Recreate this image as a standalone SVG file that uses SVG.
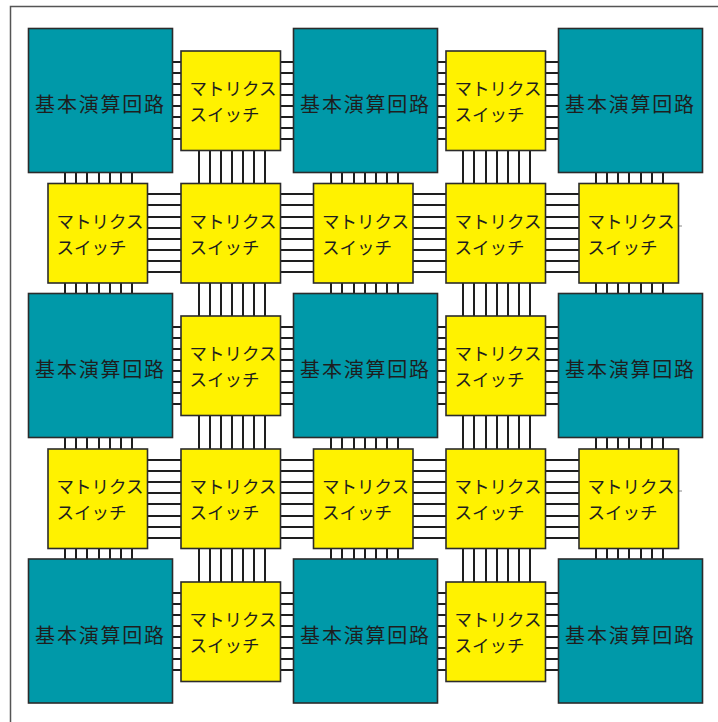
<svg xmlns="http://www.w3.org/2000/svg" width="718" height="722" viewBox="0 0 718 722">
<style>
.frame{fill:none;stroke:#555;stroke-width:1.5}
.alu{fill:#0099a9;stroke:#2b2b2b;stroke-width:1.6}
.sw{fill:#fff200;stroke:#2b2b2b;stroke-width:1.6}
.bus{fill:none;stroke:#1e1e1e;stroke-width:2}
.tick{fill:none;stroke:#888;stroke-width:1}
.ta{font-family:"Noto Sans CJK JP","Noto Sans",sans-serif;font-size:20px;letter-spacing:1.8px;fill:#1e1e1e;text-anchor:middle}
.ts{font-family:"Noto Sans CJK JP","Noto Sans",sans-serif;font-size:17.5px;fill:#1e1e1e}
</style>
<rect width="718" height="722" fill="#fff"/>
<rect class="frame" x="10.5" y="6.5" width="730" height="730"/>
<g id="connectors">
<path class="bus" d="M172 62H182M172 73H182M172 84H182M172 95H182M172 106H182M172 117H182M172 128H182M172 139H182"/>
<path class="bus" d="M279 62H295M279 73H295M279 84H295M279 95H295M279 106H295M279 117H295M279 128H295M279 139H295"/>
<path class="bus" d="M436 62H447M436 73H447M436 84H447M436 95H447M436 106H447M436 117H447M436 128H447M436 139H447"/>
<path class="bus" d="M544 62H560M544 73H560M544 84H560M544 95H560M544 106H560M544 117H560M544 128H560M544 139H560"/>
<path class="bus" d="M147 194H182M147 205H182M147 217H182M147 228H182M147 239H182M147 250H182M147 261H182M147 272H182"/>
<path class="bus" d="M279 194H315M279 205H315M279 217H315M279 228H315M279 239H315M279 250H315M279 261H315M279 272H315"/>
<path class="bus" d="M412 194H447M412 205H447M412 217H447M412 228H447M412 239H447M412 250H447M412 261H447M412 272H447"/>
<path class="bus" d="M544 194H580M544 205H580M544 217H580M544 228H580M544 239H580M544 250H580M544 261H580M544 272H580"/>
<path class="bus" d="M172 327H182M172 338H182M172 349H182M172 360H182M172 371H182M172 382H182M172 393H182M172 404H182"/>
<path class="bus" d="M279 327H295M279 338H295M279 349H295M279 360H295M279 371H295M279 382H295M279 393H295M279 404H295"/>
<path class="bus" d="M436 327H447M436 338H447M436 349H447M436 360H447M436 371H447M436 382H447M436 393H447M436 404H447"/>
<path class="bus" d="M544 327H560M544 338H560M544 349H560M544 360H560M544 371H560M544 382H560M544 393H560M544 404H560"/>
<path class="bus" d="M147 460H182M147 471H182M147 482H182M147 493H182M147 504H182M147 516H182M147 527H182M147 538H182"/>
<path class="bus" d="M279 460H315M279 471H315M279 482H315M279 493H315M279 504H315M279 516H315M279 527H315M279 538H315"/>
<path class="bus" d="M412 460H447M412 471H447M412 482H447M412 493H447M412 504H447M412 516H447M412 527H447M412 538H447"/>
<path class="bus" d="M544 460H580M544 471H580M544 482H580M544 493H580M544 504H580M544 516H580M544 527H580M544 538H580"/>
<path class="bus" d="M172 593H182M172 604H182M172 615H182M172 626H182M172 637H182M172 648H182M172 659H182M172 670H182"/>
<path class="bus" d="M279 593H295M279 604H295M279 615H295M279 626H295M279 637H295M279 648H295M279 659H295M279 670H295"/>
<path class="bus" d="M436 593H447M436 604H447M436 615H447M436 626H447M436 637H447M436 648H447M436 659H447M436 670H447"/>
<path class="bus" d="M544 593H560M544 604H560M544 615H560M544 626H560M544 637H560M544 648H560M544 659H560M544 670H560"/>
<path class="bus" d="M65 172V185M76 172V185M87 172V185M99 172V185M110 172V185M121 172V185M132 172V185"/>
<path class="bus" d="M65 282V295M76 282V295M87 282V295M99 282V295M110 282V295M121 282V295M132 282V295"/>
<path class="bus" d="M65 436V450M76 436V450M87 436V450M99 436V450M110 436V450M121 436V450M132 436V450"/>
<path class="bus" d="M65 548V560M76 548V560M87 548V560M99 548V560M110 548V560M121 548V560M132 548V560"/>
<path class="bus" d="M199 149V185M210 149V185M221 149V185M232 149V185M243 149V185M254 149V185M265 149V185"/>
<path class="bus" d="M199 282V317M210 282V317M221 282V317M232 282V317M243 282V317M254 282V317M265 282V317"/>
<path class="bus" d="M199 414V450M210 414V450M221 414V450M232 414V450M243 414V450M254 414V450M265 414V450"/>
<path class="bus" d="M199 548V583M210 548V583M221 548V583M232 548V583M243 548V583M254 548V583M265 548V583"/>
<path class="bus" d="M331 172V185M342 172V185M354 172V185M365 172V185M376 172V185M387 172V185M398 172V185"/>
<path class="bus" d="M331 282V295M342 282V295M354 282V295M365 282V295M376 282V295M387 282V295M398 282V295"/>
<path class="bus" d="M331 436V450M342 436V450M354 436V450M365 436V450M376 436V450M387 436V450M398 436V450"/>
<path class="bus" d="M331 548V560M342 548V560M354 548V560M365 548V560M376 548V560M387 548V560M398 548V560"/>
<path class="bus" d="M463 149V185M474 149V185M486 149V185M497 149V185M508 149V185M519 149V185M530 149V185"/>
<path class="bus" d="M463 282V317M474 282V317M486 282V317M497 282V317M508 282V317M519 282V317M530 282V317"/>
<path class="bus" d="M463 414V450M474 414V450M486 414V450M497 414V450M508 414V450M519 414V450M530 414V450"/>
<path class="bus" d="M463 548V583M474 548V583M486 548V583M497 548V583M508 548V583M519 548V583M530 548V583"/>
<path class="bus" d="M596 172V185M607 172V185M618 172V185M629 172V185M641 172V185M652 172V185M663 172V185"/>
<path class="bus" d="M596 282V295M607 282V295M618 282V295M629 282V295M641 282V295M652 282V295M663 282V295"/>
<path class="bus" d="M596 436V450M607 436V450M618 436V450M629 436V450M641 436V450M652 436V450M663 436V450"/>
<path class="bus" d="M596 548V560M607 548V560M618 548V560M629 548V560M641 548V560M652 548V560M663 548V560"/>
<path class="tick" d="M679 226H682M679 491H682"/>
</g>
<g id="alu-1-1"><rect class="alu" x="28.5" y="28.5" width="144" height="144"/><text class="ta" x="100.5" y="112">基本演算回路</text></g>
<g id="alu-1-2"><rect class="alu" x="293.5" y="28.5" width="144" height="144"/><text class="ta" x="365.5" y="112">基本演算回路</text></g>
<g id="alu-1-3"><rect class="alu" x="558.5" y="28.5" width="144" height="144"/><text class="ta" x="630.5" y="112">基本演算回路</text></g>
<g id="alu-2-1"><rect class="alu" x="28.5" y="293.5" width="144" height="144"/><text class="ta" x="100.5" y="377">基本演算回路</text></g>
<g id="alu-2-2"><rect class="alu" x="293.5" y="293.5" width="144" height="144"/><text class="ta" x="365.5" y="377">基本演算回路</text></g>
<g id="alu-2-3"><rect class="alu" x="558.5" y="293.5" width="144" height="144"/><text class="ta" x="630.5" y="377">基本演算回路</text></g>
<g id="alu-3-1"><rect class="alu" x="28.5" y="559" width="144" height="144"/><text class="ta" x="100.5" y="642.5">基本演算回路</text></g>
<g id="alu-3-2"><rect class="alu" x="293.5" y="559" width="144" height="144"/><text class="ta" x="365.5" y="642.5">基本演算回路</text></g>
<g id="alu-3-3"><rect class="alu" x="558.5" y="559" width="144" height="144"/><text class="ta" x="630.5" y="642.5">基本演算回路</text></g>
<g id="sw-1-2"><rect class="sw" x="181" y="51" width="99.5" height="99.5"/><text class="ts" x="189.5" y="95">マトリクス</text><text class="ts" x="189.5" y="121">スイッチ</text></g>
<g id="sw-1-4"><rect class="sw" x="446" y="51" width="99.5" height="99.5"/><text class="ts" x="454.5" y="95">マトリクス</text><text class="ts" x="454.5" y="121">スイッチ</text></g>
<g id="sw-2-1"><rect class="sw" x="48" y="183.5" width="99.5" height="99.5"/><text class="ts" x="56.5" y="227.5">マトリクス</text><text class="ts" x="56.5" y="253.5">スイッチ</text></g>
<g id="sw-2-2"><rect class="sw" x="181" y="183.5" width="99.5" height="99.5"/><text class="ts" x="189.5" y="227.5">マトリクス</text><text class="ts" x="189.5" y="253.5">スイッチ</text></g>
<g id="sw-2-3"><rect class="sw" x="313.5" y="183.5" width="99.5" height="99.5"/><text class="ts" x="322" y="227.5">マトリクス</text><text class="ts" x="322" y="253.5">スイッチ</text></g>
<g id="sw-2-4"><rect class="sw" x="446" y="183.5" width="99.5" height="99.5"/><text class="ts" x="454.5" y="227.5">マトリクス</text><text class="ts" x="454.5" y="253.5">スイッチ</text></g>
<g id="sw-2-5"><rect class="sw" x="579" y="183.5" width="99.5" height="99.5"/><text class="ts" x="587.5" y="227.5">マトリクス</text><text class="ts" x="587.5" y="253.5">スイッチ</text></g>
<g id="sw-3-2"><rect class="sw" x="181" y="316" width="99.5" height="99.5"/><text class="ts" x="189.5" y="360">マトリクス</text><text class="ts" x="189.5" y="386">スイッチ</text></g>
<g id="sw-3-4"><rect class="sw" x="446" y="316" width="99.5" height="99.5"/><text class="ts" x="454.5" y="360">マトリクス</text><text class="ts" x="454.5" y="386">スイッチ</text></g>
<g id="sw-4-1"><rect class="sw" x="48" y="449" width="99.5" height="99.5"/><text class="ts" x="56.5" y="493">マトリクス</text><text class="ts" x="56.5" y="519">スイッチ</text></g>
<g id="sw-4-2"><rect class="sw" x="181" y="449" width="99.5" height="99.5"/><text class="ts" x="189.5" y="493">マトリクス</text><text class="ts" x="189.5" y="519">スイッチ</text></g>
<g id="sw-4-3"><rect class="sw" x="313.5" y="449" width="99.5" height="99.5"/><text class="ts" x="322" y="493">マトリクス</text><text class="ts" x="322" y="519">スイッチ</text></g>
<g id="sw-4-4"><rect class="sw" x="446" y="449" width="99.5" height="99.5"/><text class="ts" x="454.5" y="493">マトリクス</text><text class="ts" x="454.5" y="519">スイッチ</text></g>
<g id="sw-4-5"><rect class="sw" x="579" y="449" width="99.5" height="99.5"/><text class="ts" x="587.5" y="493">マトリクス</text><text class="ts" x="587.5" y="519">スイッチ</text></g>
<g id="sw-5-2"><rect class="sw" x="181" y="582" width="99.5" height="99.5"/><text class="ts" x="189.5" y="626">マトリクス</text><text class="ts" x="189.5" y="652">スイッチ</text></g>
<g id="sw-5-4"><rect class="sw" x="446" y="582" width="99.5" height="99.5"/><text class="ts" x="454.5" y="626">マトリクス</text><text class="ts" x="454.5" y="652">スイッチ</text></g>
</svg>
